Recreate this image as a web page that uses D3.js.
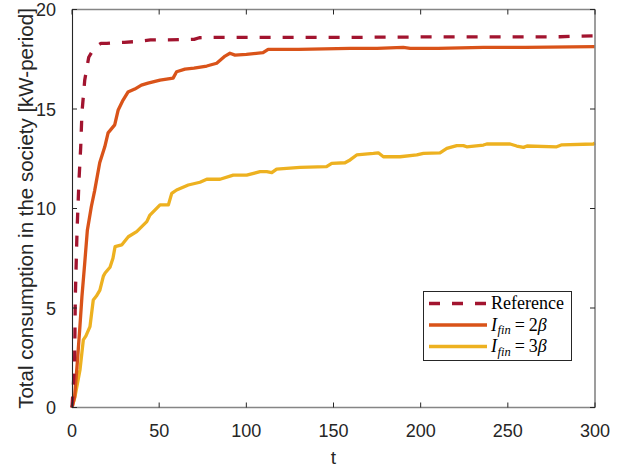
<!DOCTYPE html>
<html><head><meta charset="utf-8">
<script src="https://cdn.jsdelivr.net/npm/d3@7"></script>
<style>html,body{margin:0;padding:0;background:#fff;}svg{display:block;}</style>
</head><body>
<script>
// ---- data ----
const xTicks = [0, 50, 100, 150, 200, 250, 300];
const yTicks = [0, 5, 10, 15, 20];
const seriesNames = ["Reference", "I_fin = 2β", "I_fin = 3β"];

const refT = [0,1.5,1.9,2.9,4.0,5.0,5.7,7.3,9.6,13,16.6,20,25,30,35,40,45,55,70,73,80,120,160,200,250,280,290,300];
const refV = [0,2.2,5.55,8.9,11.4,13.1,14.8,16.45,17.6,18.1,18.3,18.3,18.33,18.35,18.38,18.42,18.47,18.47,18.5,18.58,18.6,18.6,18.6,18.62,18.62,18.63,18.66,18.68];

const fin2T = [0,1.5,3.0,4.4,5.7,7.3,8.8,11.1,13,15.9,18.8,20.7,24.5,26.5,29.3,32.1,36,39.8,43.6,50.5,58,60,64.8,70,77.3,83,87.8,90.6,93.5,100,109.6,112.5,130,159.5,175,190,194,210,236,260,300];
const fin2V = [0,0.54,2.2,3.9,5.57,7.26,8.9,10.1,10.9,12.3,13.1,13.8,14.2,14.95,15.45,15.85,16.0,16.2,16.3,16.45,16.55,16.87,17.0,17.05,17.16,17.3,17.66,17.8,17.71,17.75,17.83,18.0,18.0,18.05,18.05,18.1,18.05,18.05,18.1,18.1,18.13];

const fin3T = [0,1.7,4.6,6.5,8,10.3,12.2,14,16,18,19,21.8,23.5,24.7,28.5,32.3,37.1,42.9,44.7,50.5,55.3,57.2,60,66.7,73.4,77.3,84.9,92.5,100.2,107.9,111.7,114.6,117.4,130.8,146,149,156.6,159.5,163.3,172.9,175.7,178.6,188.2,197.8,201.6,211.1,215,220.7,224.5,226.4,236,237.9,251.3,255.1,259,261,278,281,299,300];
const fin3V = [0,0.54,1.9,3.4,3.6,4.06,5.4,5.6,5.9,6.6,6.76,7.05,7.5,8.08,8.17,8.58,8.84,9.34,9.67,10.18,10.18,10.76,10.93,11.18,11.32,11.47,11.47,11.68,11.68,11.85,11.85,11.8,11.98,12.07,12.1,12.27,12.3,12.44,12.69,12.77,12.8,12.6,12.6,12.69,12.77,12.8,13.02,13.16,13.16,13.1,13.19,13.24,13.24,13.14,13.07,13.14,13.1,13.2,13.24,13.3];

const colors = ["#A2142F", "#D95319", "#EDB120"];

// ---- layout ----
const W = 625, H = 470;
const L = 72, R = 595, T = 9.5, B = 407.5;
const svg = d3.select("body").append("svg").attr("width", W).attr("height", H);

const x = d3.scaleLinear().domain([0, 300]).range([L, R]);
const y = d3.scaleLinear().domain([0, 20]).range([B, T]);

const fontSans = "Liberation Sans, Arial, Helvetica, sans-serif";
const axisCol = "#262626";
const grayCol = "#858585";

// ---- lines ----
const series = [
  {t: refT, v: refV, dash: "11,12"},
  {t: fin2T, v: fin2V, dash: null},
  {t: fin3T, v: fin3V, dash: null}
];
const line = d3.line().x(d => x(d[0])).y(d => y(d[1]));
const plot = svg.append("g");
[2, 1, 0].forEach(i => {
  const s = series[i];
  const pts = s.t.map((t, k) => [t, s.v[k]]);
  const p = plot.append("path").datum(pts)
    .attr("d", line).attr("fill", "none")
    .attr("stroke", colors[i]).attr("stroke-width", 3.3)
    .attr("stroke-linejoin", "round");
  if (s.dash) p.attr("stroke-dasharray", s.dash);
});

// ---- axes ----
const ax = svg.append("g");
ax.append("line").attr("x1", L).attr("x2", R).attr("y1", B).attr("y2", B).attr("stroke", grayCol).attr("stroke-width", 1.6);
ax.append("line").attr("x1", L).attr("x2", R).attr("y1", T).attr("y2", T).attr("stroke", grayCol).attr("stroke-width", 1.6);
ax.append("line").attr("x1", R).attr("x2", R).attr("y1", T).attr("y2", B).attr("stroke", grayCol).attr("stroke-width", 1.6);
ax.append("line").attr("x1", L + 0.5).attr("x2", L + 0.5).attr("y1", T).attr("y2", B).attr("stroke", axisCol).attr("stroke-width", 1.1);

const tl = 5;
xTicks.forEach(v => {
  ax.append("line").attr("x1", x(v)).attr("x2", x(v)).attr("y1", B).attr("y2", B - tl).attr("stroke", axisCol).attr("stroke-width", 1);
  ax.append("line").attr("x1", x(v)).attr("x2", x(v)).attr("y1", T).attr("y2", T + tl).attr("stroke", axisCol).attr("stroke-width", 1);
  ax.append("text").attr("x", x(v)).attr("y", 437).attr("text-anchor", "middle")
    .attr("font-family", fontSans).attr("font-size", 18).attr("fill", axisCol).text(v);
});
yTicks.forEach(v => {
  ax.append("line").attr("x1", L).attr("x2", L + tl).attr("y1", y(v)).attr("y2", y(v)).attr("stroke", axisCol).attr("stroke-width", 1);
  ax.append("line").attr("x1", R).attr("x2", R - tl).attr("y1", y(v)).attr("y2", y(v)).attr("stroke", axisCol).attr("stroke-width", 1);
  ax.append("text").attr("x", 56).attr("y", y(v) + 6.5).attr("text-anchor", "end")
    .attr("font-family", fontSans).attr("font-size", 18).attr("fill", axisCol).text(v);
});

// axis labels
svg.append("text").attr("x", (L + R) / 2).attr("y", 464).attr("text-anchor", "middle")
  .attr("font-family", fontSans).attr("font-size", 19).attr("fill", axisCol).text("t");
svg.append("text").attr("transform", `translate(33,${(T + B) / 2}) rotate(-90)`).attr("text-anchor", "middle")
  .attr("font-family", fontSans).attr("font-size", 20.5).attr("fill", axisCol)
  .text("Total consumption in the society [kW-period]");

// ---- legend ----
const lg = svg.append("g");
const lx = 423, ly = 291, lw = 148, lh = 69;
lg.append("rect").attr("x", lx + 0.5).attr("y", ly + 0.5).attr("width", lw).attr("height", lh)
  .attr("fill", "#fff").attr("stroke", axisCol).attr("stroke-width", 1);
const rows = [303.5, 325, 346.5];
const serif = "Liberation Serif, Times New Roman, serif";
rows.forEach((ry, i) => {
  const l = lg.append("line").attr("x1", 429).attr("x2", 487).attr("y1", ry).attr("y2", ry)
    .attr("stroke", colors[i]).attr("stroke-width", 3.3);
  if (i === 0) l.attr("stroke-dasharray", "11,12").attr("x1", 429).attr("x2", 490);
  const t = lg.append("text").attr("x", 491).attr("y", ry + 5.5)
    .attr("font-family", serif).attr("font-size", 18).attr("fill", "#000");
  if (i === 0) {
    t.text(seriesNames[0]);
  } else {
    t.append("tspan").attr("font-style", "italic").text("I");
    t.append("tspan").attr("font-style", "italic").attr("font-size", 12.5).attr("dy", 3.5).attr("dx", 0.5).text("fin");
    t.append("tspan").attr("dy", -3.5).attr("dx", 4).text("=");
    t.append("tspan").attr("dx", 4).text(i === 1 ? "2" : "3");
    t.append("tspan").attr("font-style", "italic").text("β");
  }
});
</script>
</body></html>
